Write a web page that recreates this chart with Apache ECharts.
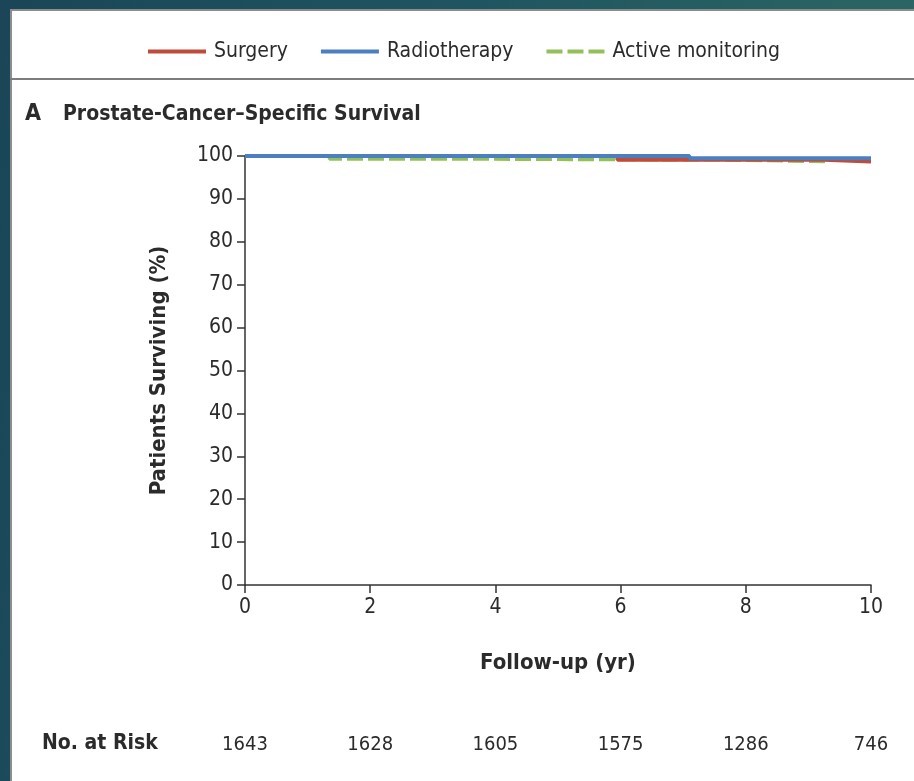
<!DOCTYPE html>
<html>
<head>
<meta charset="utf-8">
<script src="https://cdn.jsdelivr.net/npm/echarts@6/dist/echarts.min.js"></script>
<style>
  html, body { margin: 0; padding: 0; width: 914px; height: 781px; overflow: hidden; }
  body { background: linear-gradient(100deg, #1a4658 0%, #1f5560 45%, #2e6b64 100%); position: relative; }
  #panel { position: absolute; left: 10px; top: 9px; width: 904px; height: 772px; background: #fff;
           border-left: 2px solid #8c8c8c; border-top: 2px solid #8c8c8c; box-sizing: border-box; }
  #sep { position: absolute; left: 10px; top: 78px; width: 904px; height: 2px; background: #7d7d7d; }
  #chart { position: absolute; left: 0; top: 0; width: 914px; height: 781px; }
</style>
</head>
<body>
<div id="panel"></div>
<div id="sep"></div>
<div id="chart"></div>
<script>
// Kaplan–Meier steps: [year, percent surviving]
const surgery = [[0, 100], [5.95, 99.1], [9.25, 98.7], [10, 98.7]];
const radiotherapy = [[0, 100], [7.1, 99.5], [10, 99.5]];
const activeMonitoring = [[0, 100], [1.35, 99.3], [3.4, 99.1], [7.6, 98.7], [9.3, 98.7]];

const xTicks = [0, 2, 4, 6, 8, 10];
const atRisk = [1643, 1628, 1605, 1575, 1286, 746];

const FONT = "'Liberation Sans Narrow', 'DejaVu Sans Condensed', 'Liberation Sans', sans-serif";
const INK = '#2b2b2b';

const chart = echarts.init(document.getElementById('chart'), null, { renderer: 'canvas' });

chart.setOption({
  backgroundColor: 'transparent',
  animation: false,
  textStyle: { fontFamily: FONT, color: INK },
  title: {
    left: 20, top: 98,
    text: '{a|A}{b|Prostate-Cancer\u2013Specific Survival}',
    textStyle: {
      rich: {
        a: { fontFamily: FONT, fontSize: 23, fontWeight: 'bold', color: INK, width: 38 },
        b: { fontFamily: FONT, fontSize: 21, fontWeight: 'bold', color: INK }
      }
    }
  },
  legend: {
    left: 141, top: 36,
    itemWidth: 58, itemHeight: 4, itemGap: 31,
    lineStyle: { width: 4 },
    itemStyle: { opacity: 0 },
    textStyle: { fontFamily: FONT, fontSize: 21, color: INK, padding: [0, 0, 0, 3] },
    data: ['Surgery', 'Radiotherapy', 'Active monitoring']
  },
  grid: { left: 245, right: 43, top: 156, bottom: 196, containLabel: false },
  xAxis: [{
    type: 'value', min: 0, max: 10, interval: 2,
    axisLine: { show: true, lineStyle: { color: '#333', width: 1.5 } },
    axisTick: { show: true, length: 8, lineStyle: { color: '#333', width: 1.5 } },
    axisLabel: { margin: 12, fontSize: 21, color: INK, fontFamily: FONT },
    splitLine: { show: false },
    name: 'Follow-up (yr)', nameLocation: 'middle', nameGap: 67,
    nameTextStyle: { fontSize: 22, fontWeight: 'bold', color: INK, fontFamily: FONT }
  }, {
    // at-risk counts aligned under the year ticks
    type: 'value', min: 0, max: 10, interval: 2, position: 'bottom', offset: 150,
    axisLine: { show: false }, axisTick: { show: false }, splitLine: { show: false },
    axisLabel: {
      margin: 0, fontSize: 20, color: INK, fontFamily: FONT,
      formatter: function (v) { const i = xTicks.indexOf(v); return i >= 0 ? String(atRisk[i]) : ''; }
    }
  }],
  yAxis: {
    type: 'value', min: 0, max: 100, interval: 10,
    axisLine: { show: true, lineStyle: { color: '#333', width: 1.5 } },
    axisTick: { show: true, length: 8, lineStyle: { color: '#333', width: 1.5 } },
    axisLabel: { margin: 12, fontSize: 21, color: INK, fontFamily: FONT },
    splitLine: { show: false },
    name: 'Patients Surviving (%)', nameLocation: 'middle', nameGap: 75, nameRotate: 90,
    nameTextStyle: { fontSize: 22, fontWeight: 'bold', color: INK, fontFamily: FONT }
  },
  graphic: [{
    type: 'text', left: 42, top: 733,
    style: { text: 'No. at Risk', font: "bold 21px " + FONT, fill: INK }
  }],
  series: [{
    name: 'Active monitoring', type: 'line', step: 'end', symbol: 'none', z: 2,
    data: activeMonitoring,
    lineStyle: { color: '#94c05c', width: 3.5, type: [16, 5] },
    itemStyle: { color: '#94c05c' }
  }, {
    name: 'Surgery', type: 'line', step: 'end', symbol: 'none', z: 3,
    data: surgery,
    lineStyle: { color: '#bf4b3a', width: 4 },
    itemStyle: { color: '#bf4b3a' }
  }, {
    name: 'Radiotherapy', type: 'line', step: 'end', symbol: 'none', z: 4,
    data: radiotherapy,
    lineStyle: { color: '#4c7fc0', width: 4 },
    itemStyle: { color: '#4c7fc0' }
  }]
});
</script>
</body>
</html>
